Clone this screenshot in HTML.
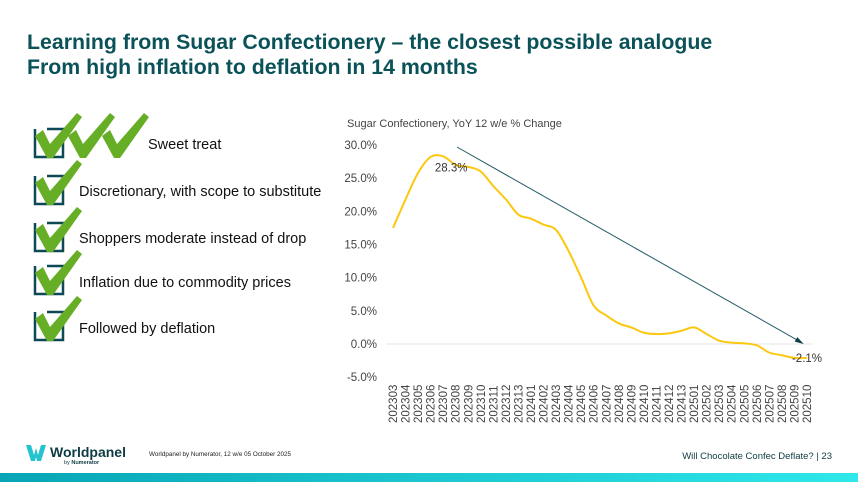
<!DOCTYPE html>
<html><head><meta charset="utf-8"><style>
body{margin:0;width:858px;height:482px;overflow:hidden;background:#fff;font-family:"Liberation Sans",sans-serif;position:relative}
.t{position:absolute;left:27px;color:#0a5258;font-weight:bold;font-size:21.3px;white-space:nowrap}
.item{position:absolute;left:79px;font-size:14.5px;color:#111;white-space:nowrap}
</style></head><body>
<div class="t" style="top:30px">Learning from Sugar Confectionery – the closest possible analogue</div>
<div class="t" style="top:55px">From high inflation to deflation in 14 months</div>

<svg width="330" height="240" style="position:absolute;left:0;top:110px">
<defs><g id="box"><path d="M35 19 V47 H63 V19 H47" fill="none" stroke="#0d4a55" stroke-width="2.5"/></g>
<g id="chk"><path d="M35 26 L43 20 L50 34 L77 3 L82 7 L53 48 L47 48 Z" fill="#67ae27"/></g></defs>
<g><use href="#box"/><use href="#chk"/><use href="#chk" x="33"/><use href="#chk" x="67"/></g>
<g transform="translate(0,47)"><use href="#box"/><use href="#chk"/></g>
<g transform="translate(0,94)"><use href="#box"/><use href="#chk"/></g>
<g transform="translate(0,137)"><use href="#box"/><use href="#chk"/></g>
<g transform="translate(0,183)"><use href="#box"/><use href="#chk"/></g>
</svg>
<div class="item" style="left:148px;top:137px">Sweet treat</div>
<div class="item" style="top:184px">Discretionary, with scope to substitute</div>
<div class="item" style="top:231px">Shoppers moderate instead of drop</div>
<div class="item" style="top:275px">Inflation due to commodity prices</div>
<div class="item" style="top:321px">Followed by deflation</div>

<svg id="chart" width="858" height="482" style="position:absolute;left:0;top:0"></svg>

<div style="position:absolute;left:26px;top:445px">
<svg width="20" height="16" style="position:absolute;left:0;top:0"><path d="M0 0 L5 0 L8 10 L10 3 L12 10 L15 0 L20 0 L15 16 L11 16 L10 12 L9 16 L5 16 Z" fill="#23c3cf"/></svg>
<div style="position:absolute;left:24px;top:-1px;font-size:14px;font-weight:bold;color:#0d3c44">Worldpanel</div>
<div style="position:absolute;left:38px;top:15px;font-size:5.5px;color:#0d3c44;white-space:nowrap">by <b>Numerator</b></div>
</div>
<div style="position:absolute;left:149px;top:451px;font-size:6.3px;color:#222;white-space:nowrap">Worldpanel by Numerator, 12 w/e 05 October 2025</div>
<div style="position:absolute;right:26px;top:451px;font-size:9.5px;color:#0d3c44;white-space:nowrap">Will Chocolate Confec Deflate? | 23</div>
<div style="position:absolute;left:0;top:473px;width:858px;height:9px;background:linear-gradient(90deg,#07a5b5,#2ee8ea)"></div>

<script>
const categories=["202303","202304","202305","202306","202307","202308","202309","202310","202311","202312","202313","202401","202402","202403","202404","202405","202406","202407","202408","202409","202410","202411","202412","202413","202501","202502","202503","202504","202505","202506","202507","202508","202509","202510"];
const values=[17.5,21.8,25.8,28.2,28.3,27,26.7,26,23.8,21.8,19.5,18.9,18,17.2,14,10,5.8,4.3,3.1,2.5,1.7,1.5,1.6,2,2.5,1.5,0.5,0.2,0.1,-0.2,-1.3,-1.7,-2.1,-2.1];
const yTicks=[30,25,20,15,10,5,0,-5];
const NS="http://www.w3.org/2000/svg";
const svg=document.getElementById('chart');
const n=categories.length;
const x0=393,x1=807;
const xs=i=>x0+i*(x1-x0)/(n-1);
const ys=v=>344-v*6.633;
function mk(t,a,p){const e=document.createElementNS(NS,t);for(const k in a)e.setAttribute(k,a[k]);(p||svg).appendChild(e);return e;}
let e=mk('text',{x:347,y:127,'font-size':11,fill:'#444'});e.textContent="Sugar Confectionery, YoY 12 w/e % Change";


yTicks.forEach(v=>{const t=mk('text',{x:377,y:ys(v)+4,'text-anchor':'end','font-size':11.5,fill:'#444'});t.textContent=v.toFixed(1)+"%";

});
const zl=mk('line',{x1:386,x2:812,y1:ys(0),y2:ys(0),stroke:'#e6e6e6','stroke-width':1});


categories.forEach((c,i)=>{const t=mk('text',{transform:`translate(${xs(i)+4},${423}) rotate(-90)`,'font-size':11.5,fill:'#444'});t.textContent=c;

});
const pts=values.map((v,i)=>[xs(i),ys(v)]);
let d=`M${pts[0][0]},${pts[0][1]}`;
for(let i=0;i<pts.length-1;i++){const p0=pts[Math.max(0,i-1)],p1=pts[i],p2=pts[i+1],p3=pts[Math.min(pts.length-1,i+2)];
d+=` C${p1[0]+(p2[0]-p0[0])/6},${p1[1]+(p2[1]-p0[1])/6} ${p2[0]-(p3[0]-p1[0])/6},${p2[1]-(p3[1]-p1[1])/6} ${p2[0]},${p2[1]}`;}
const ln=mk('path',{d:d,fill:'none',stroke:'#fcc80f','stroke-width':2});


const ax1=xs(5.1),ay1=ys(29.7),ax2=xs(32.5),ay2=ys(0.3);
const ar=mk('line',{x1:ax1,y1:ay1,x2:ax2,y2:ay2,stroke:'#1f5b63','stroke-width':1});


const ang=Math.atan2(ay2-ay1,ax2-ax1);
const hd=mk('polygon',{points:`${ax2+3},${ay2+2} ${ax2-6*Math.cos(ang-0.45)},${ay2-6*Math.sin(ang-0.45)} ${ax2-6*Math.cos(ang+0.45)},${ay2-6*Math.sin(ang+0.45)}`,fill:'#0d3c44'});


const mx=values.indexOf(Math.max(...values));
let l1=mk('text',{x:xs(mx)+8,y:ys(values[mx])+15,'text-anchor':'middle','font-size':11.5,fill:'#333'});l1.textContent=values[mx].toFixed(1)+"%";


let l2=mk('text',{x:xs(n-1),y:ys(values[n-1])+4,'text-anchor':'middle','font-size':11.5,fill:'#333'});l2.textContent=values[n-1].toFixed(1)+"%";


</script>
</body></html>
